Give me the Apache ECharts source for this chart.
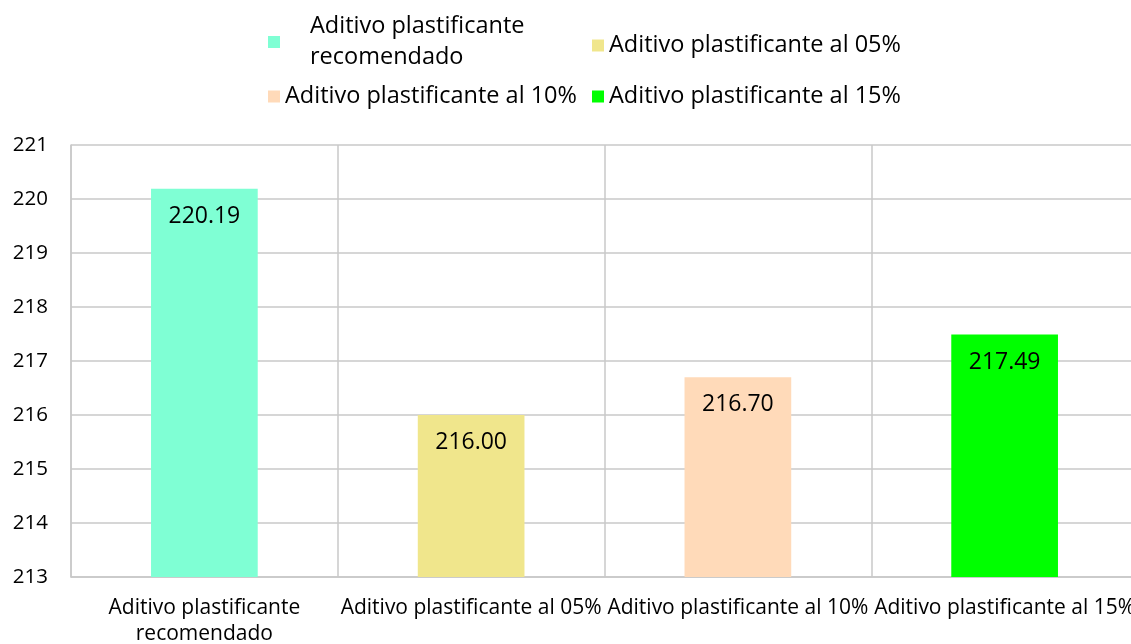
<!DOCTYPE html>
<html>
<head>
<meta charset="utf-8">
<script src="https://cdn.jsdelivr.net/npm/echarts@6/dist/echarts.min.js"></script>
<style>
  html, body { margin: 0; padding: 0; background: #fff; }
  #chart { width: 1131px; height: 644px; }
</style>
</head>
<body>
<div id="chart"></div>
<script>
// datos
const categories = ['Aditivo plastificante recomendado', 'Aditivo plastificante al 05%', 'Aditivo plastificante al 10%', 'Aditivo plastificante al 15%']
const values = [220.19, 216.00, 216.70, 217.49]
const yTicks = [213, 214, 215, 216, 217, 218, 219, 220, 221]

const colors = ['#7FFFD4', '#F0E68C', '#FFDAB9', '#00FF00']
const fontFamily = '"Open Sans", "Noto Sans", sans-serif'
const gridColor = '#c8c8c8'

function wrap(name) {
  return name === categories[0] ? 'Aditivo plastificante\nrecomendado' : name
}

let chart = echarts.init(document.getElementById('chart'))

let series = values.map((v, i) => {
  return {
    name: categories[i],
    type: 'bar',
    barWidth: '40%',
    barGap: '-100%',
    itemStyle: { color: colors[i] },
    label: {
      show: true,
      position: 'insideTop',
      distance: 16,
      color: '#000',
      fontFamily: fontFamily,
      fontSize: 23,
      formatter: p => p.value.toFixed(2)
    },
    data: categories.map((c, j) => j === i ? v : '-')
  }
})

function legendAt(name, left, top, extra) {
  return Object.assign({
    data: [name],
    left: left,
    top: top,
    padding: 0,
    orient: 'horizontal',
    itemWidth: 12,
    itemHeight: 12,
    itemGap: 0,
    icon: 'rect',
    formatter: wrap,
    selectedMode: false,
    textStyle: { color: '#000', fontFamily: fontFamily, fontSize: 23.5, lineHeight: 31 }
  }, extra || {})
}

let option = {
  animation: false,
  legend: [
    legendAt(categories[0], 268, 11, {
      textStyle: { color: '#000', fontFamily: fontFamily, fontSize: 23.5, lineHeight: 31, padding: [0, 0, 0, 25] }
    }),
    legendAt(categories[1], 592, 30),
    legendAt(categories[2], 268, 81),
    legendAt(categories[3], 592, 81)
  ],
  grid: {
    left: 71,
    top: 145,
    width: 1067,
    height: 432,
    containLabel: false,
    outerBoundsMode: 'none'
  },
  xAxis: {
    type: 'category',
    data: categories,
    boundaryGap: true,
    axisTick: { show: false },
    axisLine: { show: true, lineStyle: { color: gridColor, width: 1.5 } },
    splitLine: { show: true, interval: 0, lineStyle: { color: gridColor, width: 1.5 } },
    axisLabel: {
      interval: 0,
      margin: 18,
      color: '#000',
      fontFamily: fontFamily,
      fontSize: 21,
      lineHeight: 26,
      formatter: wrap
    }
  },
  yAxis: {
    type: 'value',
    min: yTicks[0],
    max: yTicks[yTicks.length - 1],
    interval: 1,
    axisTick: { show: false },
    axisLine: { show: true, lineStyle: { color: gridColor, width: 1.5 } },
    splitLine: { show: true, lineStyle: { color: gridColor, width: 1.5 } },
    axisLabel: {
      margin: 23,
      color: '#000',
      fontFamily: fontFamily,
      fontSize: 20.5
    }
  },
  series
}
chart.setOption(option)
</script>
</body>
</html>
